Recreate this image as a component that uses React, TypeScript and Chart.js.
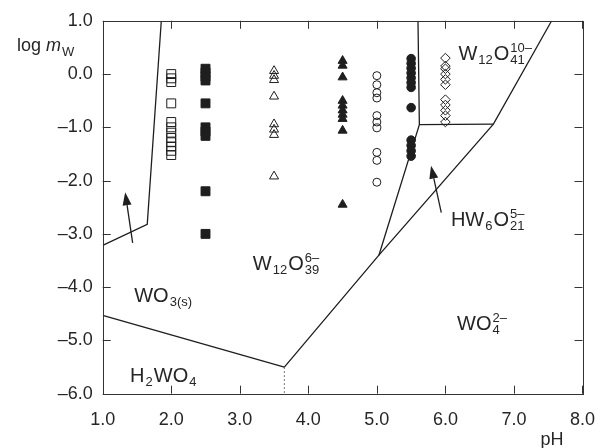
import React, { useEffect, useRef } from 'react';
import { Chart, registerables } from 'chart.js';
Chart.register(...registerables);

const xTickValues = [1, 2, 3, 4, 5, 6, 7, 8];
const xTickLabels = ['1.0', '2.0', '3.0', '4.0', '5.0', '6.0', '7.0', '8.0'];
const yTickValues = [1, 0, -1, -2, -3, -4, -5, -6];
const yTickLabels = ['1.0', '0.0', '–1.0', '–2.0', '–3.0', '–4.0', '–5.0', '–6.0'];

const openSquarePH = 2.0;
const openSquareLogM = [0.0, -0.08, -0.15, -0.55, -0.9, -1.0, -1.1, -1.2, -1.28, -1.36, -1.44, -1.52];
const filledSquarePH = 2.5;
const filledSquareLogM = [0.1, 0.03, -0.05, -0.12, -0.55, -1.0, -1.08, -1.16, -2.2, -3.0];
const openTrianglePH = 3.5;
const openTriangleLogM = [0.06, -0.03, -0.11, -0.42, -0.94, -1.04, -1.14, -1.92];
const filledTrianglePH = 4.5;
const filledTriangleLogM = [0.25, 0.16, -0.06, -0.5, -0.59, -0.68, -0.76, -0.84, -1.06, -2.45];
const openCirclePH = 5.0;
const openCircleLogM = [-0.03, -0.2, -0.35, -0.45, -0.78, -0.9, -1.01, -1.47, -1.62, -2.03];
const filledCirclePH = 5.5;
const filledCircleLogM = [0.29, 0.2, 0.11, 0.02, -0.07, -0.16, -0.25, -0.63, -1.24, -1.34, -1.44, -1.54];
const openDiamondPH = 6.0;
const openDiamondLogM = [0.3, 0.15, 0.1, 0.0, -0.1, -0.2, -0.48, -0.58, -0.68, -0.78, -0.9];

// phase boundaries
const bWO3LeftPH = [1.0, 1.65, 1.855];
const bWO3LeftLogM = [-3.215, -2.82, 1.0];
const bH2WO4PH = [1.0, 3.65];
const bH2WO4LogM = [-4.53, -5.5];
const bDiagPH = [3.65, 5.03, 6.7, 7.55];
const bDiagLogM = [-5.5, -3.4, -0.94, 1.0];
const bHWPH = [5.03, 5.62, 5.6];
const bHWLogM = [-3.4, -0.95, 1.0];
const bTopPH = [5.62, 6.7];
const bTopLogM = [-0.95, -0.94];
const bDashPH = [3.65, 3.65];
const bDashLogM = [-5.5, -6.0];

// arrows
const arrowFromPH = [1.437, 5.94];
const arrowFromLogM = [-3.17, -2.6];
const arrowToPH = [1.328, 5.79];
const arrowToLogM = [-2.22, -1.72];

type Seg = { t: string; k: 'n' | 'sub' | 'sup' | 'ss'; t2?: string };
const regionLabelPH = [1.46, 3.19, 6.17, 1.4, 6.08, 6.19];
const regionLabelLogM = [-4.28, -3.68, -4.81, -5.78, -2.86, 0.27];
const regionLabelSegs: Seg[][] = [
  [{ t: 'WO', k: 'n' }, { t: '3(s)', k: 'sub' }],
  [{ t: 'W', k: 'n' }, { t: '12', k: 'sub' }, { t: 'O', k: 'n' }, { t: '6–', k: 'ss', t2: '39' }],
  [{ t: 'WO', k: 'n' }, { t: '2–', k: 'ss', t2: '4' }],
  [{ t: 'H', k: 'n' }, { t: '2', k: 'sub' }, { t: 'WO', k: 'n' }, { t: '4', k: 'sub' }],
  [{ t: 'HW', k: 'n' }, { t: '6', k: 'sub' }, { t: 'O', k: 'n' }, { t: '5–', k: 'ss', t2: '21' }],
  [{ t: 'W', k: 'n' }, { t: '12', k: 'sub' }, { t: 'O', k: 'n' }, { t: '10–', k: 'ss', t2: '41' }],
];

const FONT = '"Liberation Sans", Arial, sans-serif';
const TXT = '#262626';
const INK = '#1e1e1e';

const pts = (x: number, ys: number[]) => ys.map((y) => ({ x, y }));
const linePts = (xs: number[], ys: number[]) => xs.map((x, i) => ({ x, y: ys[i] }));

function drawRich(ctx: CanvasRenderingContext2D, segs: Seg[], x: number, y: number, size: number) {
  const small = Math.round(size * 0.63);
  let cx = x;
  ctx.textBaseline = 'alphabetic';
  ctx.textAlign = 'left';
  for (const s of segs) {
    if (s.k === 'n') {
      ctx.font = `${size}px ${FONT}`;
      ctx.fillText(s.t, cx, y);
      cx += ctx.measureText(s.t).width;
    } else if (s.k === 'sub') {
      ctx.font = `${small}px ${FONT}`;
      ctx.fillText(s.t, cx + 1, y + 4);
      cx += ctx.measureText(s.t).width + 2;
    } else if (s.k === 'sup') {
      ctx.font = `${small}px ${FONT}`;
      ctx.fillText(s.t, cx + 1, y - 8);
      cx += ctx.measureText(s.t).width + 2;
    } else {
      ctx.font = `${small}px ${FONT}`;
      ctx.fillText(s.t, cx + 1, y - 8);
      ctx.fillText(s.t2 || '', cx + 1, y + 4);
      cx += Math.max(ctx.measureText(s.t).width, ctx.measureText(s.t2 || '').width) + 2;
    }
  }
}

const decorPlugin = {
  id: 'decor',
  afterDatasetsDraw(chart: any) {
    const ctx: CanvasRenderingContext2D = chart.ctx;
    const xs = chart.scales.x;
    const ys = chart.scales.y;
    const a = chart.chartArea;
    ctx.save();
    // frame
    ctx.strokeStyle = '#333';
    ctx.lineWidth = 1;
    ctx.strokeRect(Math.round(a.left) + 0.5, Math.round(a.top) + 0.5, Math.round(a.right - a.left), Math.round(a.bottom - a.top));
    // inward ticks
    const tl = 8;
    ctx.beginPath();
    xTickValues.forEach((v) => {
      const px = Math.round(xs.getPixelForValue(v)) + 0.5;
      ctx.moveTo(px, a.bottom);
      ctx.lineTo(px, a.bottom - tl);
      ctx.moveTo(px, a.top);
      ctx.lineTo(px, a.top + tl);
    });
    yTickValues.forEach((v) => {
      const py = Math.round(ys.getPixelForValue(v)) + 0.5;
      ctx.moveTo(a.left, py);
      ctx.lineTo(a.left + tl, py);
      ctx.moveTo(a.right, py);
      ctx.lineTo(a.right - tl, py);
    });
    ctx.stroke();
    // arrows
    ctx.strokeStyle = INK;
    ctx.fillStyle = INK;
    ctx.lineWidth = 1.3;
    arrowFromPH.forEach((fx, i) => {
      const x0 = xs.getPixelForValue(fx);
      const y0 = ys.getPixelForValue(arrowFromLogM[i]);
      const x1 = xs.getPixelForValue(arrowToPH[i]);
      const y1 = ys.getPixelForValue(arrowToLogM[i]);
      const ang = Math.atan2(y1 - y0, x1 - x0);
      const hl = 13;
      const hw = 4.5;
      const bx = x1 - Math.cos(ang) * hl;
      const by = y1 - Math.sin(ang) * hl;
      ctx.beginPath();
      ctx.moveTo(x0, y0);
      ctx.lineTo(bx, by);
      ctx.stroke();
      ctx.beginPath();
      ctx.moveTo(x1, y1);
      ctx.lineTo(bx + Math.sin(ang) * hw, by - Math.cos(ang) * hw);
      ctx.lineTo(bx - Math.sin(ang) * hw, by + Math.cos(ang) * hw);
      ctx.closePath();
      ctx.fill();
    });
    // region labels
    ctx.fillStyle = TXT;
    regionLabelSegs.forEach((segs, i) => {
      drawRich(ctx, segs, xs.getPixelForValue(regionLabelPH[i]), ys.getPixelForValue(regionLabelLogM[i]), 20);
    });
    // axis titles
    ctx.font = `18px ${FONT}`;
    ctx.textBaseline = 'alphabetic';
    ctx.textAlign = 'left';
    const lx = 17;
    ctx.fillText('log ', lx, 51);
    let w = ctx.measureText('log ').width;
    ctx.font = `italic 18px ${FONT}`;
    ctx.fillText('m', lx + w, 51);
    w += ctx.measureText('m').width;
    ctx.font = `13px ${FONT}`;
    ctx.fillText('W', lx + w + 1, 56);
    ctx.font = `18px ${FONT}`;
    ctx.textAlign = 'center';
    ctx.fillText('pH', 552, 445);
    ctx.restore();
  },
};

export default function App() {
  const ref = useRef<HTMLCanvasElement | null>(null);
  useEffect(() => {
    if (!ref.current) return;
    const markerDs = (data: any[], style: string, radius: number, filled: boolean) => ({
      data,
      pointStyle: style,
      pointRadius: radius,
      pointBorderWidth: 1,
      pointBorderColor: INK,
      pointBackgroundColor: filled ? INK : 'rgba(0,0,0,0)',
      showLine: false,
    });
    const lineDs = (data: any[], dashed = false) => ({
      data,
      showLine: true,
      pointRadius: 0,
      borderColor: dashed ? '#777' : INK,
      borderWidth: dashed ? 1 : 1.3,
      borderDash: dashed ? [2, 2] : [],
      fill: false,
    });
    const chart = new Chart(ref.current, {
      type: 'scatter',
      data: {
        datasets: [
          lineDs(linePts(bWO3LeftPH, bWO3LeftLogM)),
          lineDs(linePts(bH2WO4PH, bH2WO4LogM)),
          lineDs(linePts(bDiagPH, bDiagLogM)),
          lineDs(linePts(bHWPH, bHWLogM)),
          lineDs(linePts(bTopPH, bTopLogM)),
          lineDs(linePts(bDashPH, bDashLogM), true),
          markerDs(pts(openSquarePH, openSquareLogM), 'rect', 6.3, false),
          markerDs(pts(filledSquarePH, filledSquareLogM), 'rect', 6.3, true),
          markerDs(pts(openTrianglePH, openTriangleLogM), 'triangle', 5.2, false),
          markerDs(pts(filledTrianglePH, filledTriangleLogM), 'triangle', 5.2, true),
          markerDs(pts(openCirclePH, openCircleLogM), 'circle', 4, false),
          markerDs(pts(filledCirclePH, filledCircleLogM), 'circle', 4.3, true),
          markerDs(pts(openDiamondPH, openDiamondLogM), 'rectRot', 4.8, false),
        ] as any,
      },
      options: {
        animation: false,
        responsive: false,
        layout: { padding: { top: 20, right: 17.7, left: 0, bottom: 0 } },
        plugins: { legend: { display: false }, tooltip: { enabled: false } },
        scales: {
          x: {
            type: 'linear',
            min: 1,
            max: 8,
            afterBuildTicks: (s: any) => {
              s.ticks = xTickValues.map((v) => ({ value: v }));
            },
            afterFit: (s: any) => {
              s.height = 54.3;
            },
            grid: { display: false, drawTicks: false },
            border: { display: false },
            ticks: {
              autoSkip: false,
              maxRotation: 0,
              padding: 16,
              color: TXT,
              font: { family: FONT, size: 18 },
              callback: (v: any) => {
                const i = xTickValues.indexOf(Number(v));
                return i >= 0 ? xTickLabels[i] : '';
              },
            },
          },
          y: {
            type: 'linear',
            min: -6,
            max: 1,
            afterBuildTicks: (s: any) => {
              s.ticks = yTickValues.map((v) => ({ value: v }));
            },
            afterFit: (s: any) => {
              s.width = 102.7;
            },
            grid: { display: false, drawTicks: false },
            border: { display: false },
            ticks: {
              autoSkip: false,
              padding: 10,
              color: TXT,
              font: { family: FONT, size: 18 },
              callback: (v: any) => {
                const i = yTickValues.indexOf(Number(v));
                return i >= 0 ? yTickLabels[i] : '';
              },
            },
          },
        },
      } as any,
      plugins: [decorPlugin],
    });
    return () => chart.destroy();
  }, []);
  return (
    <div style={{ position: 'absolute', left: 0, top: 0, width: 611, height: 448, background: '#fff' }}>
      <canvas ref={ref} width={611} height={448} style={{ display: 'block' }} />
    </div>
  );
}
